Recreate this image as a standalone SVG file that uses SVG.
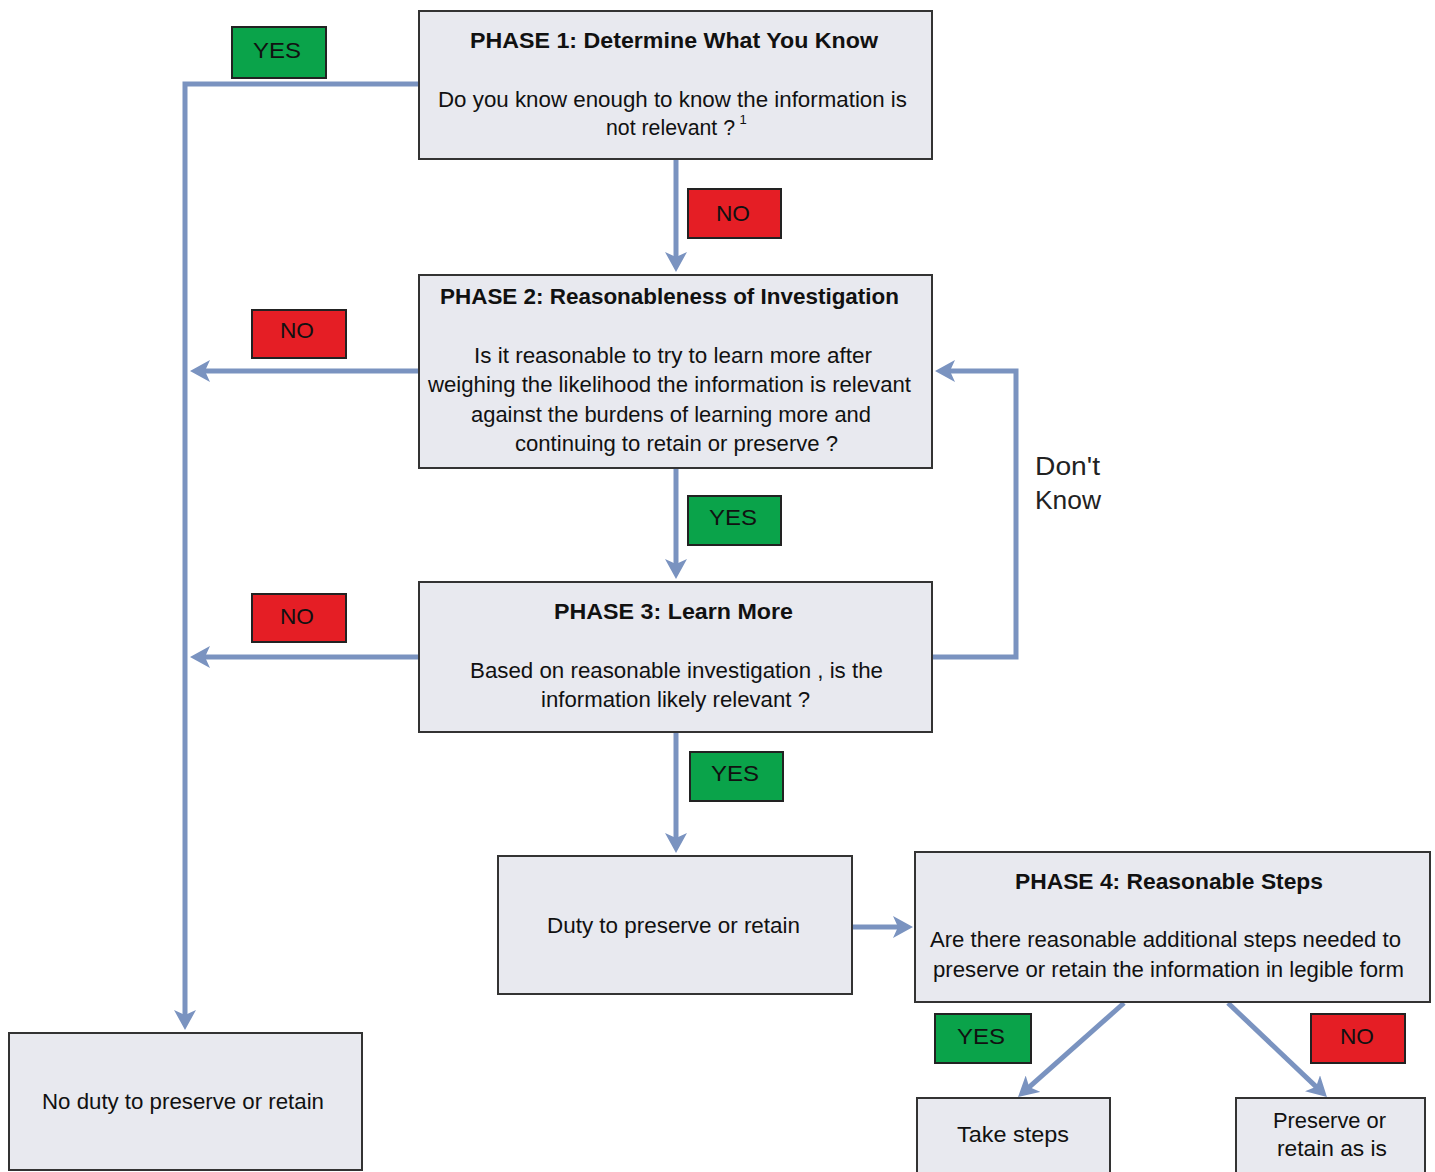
<svg xmlns="http://www.w3.org/2000/svg" width="1435" height="1172" viewBox="0 0 1435 1172">
<style>
.box{fill:#e8e9ef;stroke:#333;stroke-width:2}
.yes{fill:#0aa34a;stroke:#222;stroke-width:2}
.no{fill:#e51e25;stroke:#222;stroke-width:2}
text{font-family:"Liberation Sans",Arial,sans-serif;font-size:22px;fill:#111;text-anchor:middle}
.t{font-weight:bold}
.lbl{font-size:22px}
.dk{font-size:26px;text-anchor:start;fill:#222}
.c{fill:none;stroke:#7a93c0;stroke-width:5;marker-end:url(#ah)}
</style>
<defs>
<marker id="ah" viewBox="0 0 20 22" refX="10" refY="11" markerWidth="20" markerHeight="22" markerUnits="userSpaceOnUse" orient="auto">
<path d="M0,0 L20,11 L0,22 L5,11 z" fill="#7a93c0"/>
</marker>
</defs>
<g id="connectors">
<polyline class="c" points="419,84 185,84 185,1020"/>
<line class="c" x1="676" y1="159" x2="676" y2="262"/>
<line class="c" x1="419" y1="371" x2="200" y2="371"/>
<line class="c" x1="676" y1="468" x2="676" y2="569"/>
<line class="c" x1="419" y1="657" x2="200" y2="657"/>
<line class="c" x1="676" y1="732" x2="676" y2="843"/>
<polyline class="c" points="932,657 1016,657 1016,371 945,371"/>
<line class="c" x1="852" y1="927" x2="903" y2="927"/>
<line class="c" x1="1124" y1="1003" x2="1025.5" y2="1090.4"/>
<line class="c" x1="1228" y1="1003" x2="1319.7" y2="1090.1"/>
</g>
<g id="phase1">
<rect class="box" x="419" y="11" width="513" height="148"/>
<text class="t" x="674" y="48" textLength="408" lengthAdjust="spacingAndGlyphs">PHASE 1:  Determine What You Know</text>
<text x="672.5" y="107" textLength="469" lengthAdjust="spacingAndGlyphs">Do you know enough to know the information is</text>
<text x="670.5" y="135" textLength="129" lengthAdjust="spacingAndGlyphs">not relevant ?</text>
<text x="743" y="124" style="font-size:13px">1</text>
</g>
<g id="phase2">
<rect class="box" x="419" y="275" width="513" height="193"/>
<text class="t" x="669.5" y="304" textLength="459" lengthAdjust="spacingAndGlyphs">PHASE 2:  Reasonableness of Investigation</text>
<text x="673" y="363" textLength="398" lengthAdjust="spacingAndGlyphs">Is it reasonable to try to learn more after</text>
<text x="669.5" y="392" textLength="483" lengthAdjust="spacingAndGlyphs">weighing the likelihood the information is relevant</text>
<text x="671" y="422" textLength="400" lengthAdjust="spacingAndGlyphs">against the burdens of learning more and</text>
<text x="676.5" y="451" textLength="323" lengthAdjust="spacingAndGlyphs">continuing to retain or preserve ?</text>
</g>
<g id="phase3">
<rect class="box" x="419" y="582" width="513" height="150"/>
<text class="t" x="673.5" y="619" textLength="239" lengthAdjust="spacingAndGlyphs">PHASE 3:  Learn More</text>
<text x="676.5" y="678" textLength="413" lengthAdjust="spacingAndGlyphs">Based on reasonable investigation , is the</text>
<text x="675.5" y="707" textLength="269" lengthAdjust="spacingAndGlyphs">information likely relevant ?</text>
</g>
<g id="duty">
<rect class="box" x="498" y="856" width="354" height="138"/>
<text x="673.5" y="933" textLength="253" lengthAdjust="spacingAndGlyphs">Duty to preserve or retain</text>
</g>
<g id="phase4">
<rect class="box" x="915" y="852" width="515" height="150"/>
<text class="t" x="1169" y="889" textLength="308" lengthAdjust="spacingAndGlyphs">PHASE 4:  Reasonable Steps</text>
<text x="1165.5" y="947" textLength="471" lengthAdjust="spacingAndGlyphs">Are there reasonable additional steps needed to</text>
<text x="1168.5" y="977" textLength="471" lengthAdjust="spacingAndGlyphs">preserve or retain the information in legible form</text>
</g>
<g id="take-steps">
<rect class="box" x="917" y="1098" width="193" height="80"/>
<text x="1013" y="1142" textLength="112" lengthAdjust="spacingAndGlyphs">Take steps</text>
</g>
<g id="preserve-as-is">
<rect class="box" x="1236" y="1098" width="189" height="80"/>
<text x="1329.5" y="1128" textLength="113" lengthAdjust="spacingAndGlyphs">Preserve or</text>
<text x="1332" y="1156" textLength="110" lengthAdjust="spacingAndGlyphs">retain as is</text>
</g>
<g id="no-duty">
<rect class="box" x="9" y="1033" width="353" height="137"/>
<text x="183" y="1109" textLength="282" lengthAdjust="spacingAndGlyphs">No duty to preserve or retain</text>
</g>
<g id="labels">
<g id="lbl-yes1"><rect class="yes" x="232" y="27" width="94" height="51"/><text class="lbl" x="277" y="58" textLength="48" lengthAdjust="spacingAndGlyphs">YES</text></g>
<g id="lbl-no1"><rect class="no" x="688" y="189" width="93" height="49"/><text class="lbl" x="733" y="221" textLength="34" lengthAdjust="spacingAndGlyphs">NO</text></g>
<g id="lbl-no2"><rect class="no" x="252" y="310" width="94" height="48"/><text class="lbl" x="297" y="338" textLength="34" lengthAdjust="spacingAndGlyphs">NO</text></g>
<g id="lbl-yes2"><rect class="yes" x="688" y="496" width="93" height="49"/><text class="lbl" x="733" y="525" textLength="48" lengthAdjust="spacingAndGlyphs">YES</text></g>
<g id="lbl-no3"><rect class="no" x="252" y="594" width="94" height="48"/><text class="lbl" x="297" y="624" textLength="34" lengthAdjust="spacingAndGlyphs">NO</text></g>
<g id="lbl-yes3"><rect class="yes" x="690" y="752" width="93" height="49"/><text class="lbl" x="735" y="781" textLength="48" lengthAdjust="spacingAndGlyphs">YES</text></g>
<g id="lbl-yes4"><rect class="yes" x="935" y="1014" width="96" height="49"/><text class="lbl" x="981" y="1044" textLength="48" lengthAdjust="spacingAndGlyphs">YES</text></g>
<g id="lbl-no4"><rect class="no" x="1311" y="1014" width="94" height="49"/><text class="lbl" x="1357" y="1044" textLength="34" lengthAdjust="spacingAndGlyphs">NO</text></g>
<g id="lbl-dontknow"><text class="dk" x="1035" y="475" textLength="65" lengthAdjust="spacingAndGlyphs">Don't</text><text class="dk" x="1035" y="509" textLength="66" lengthAdjust="spacingAndGlyphs">Know</text></g>
</g>
</svg>
